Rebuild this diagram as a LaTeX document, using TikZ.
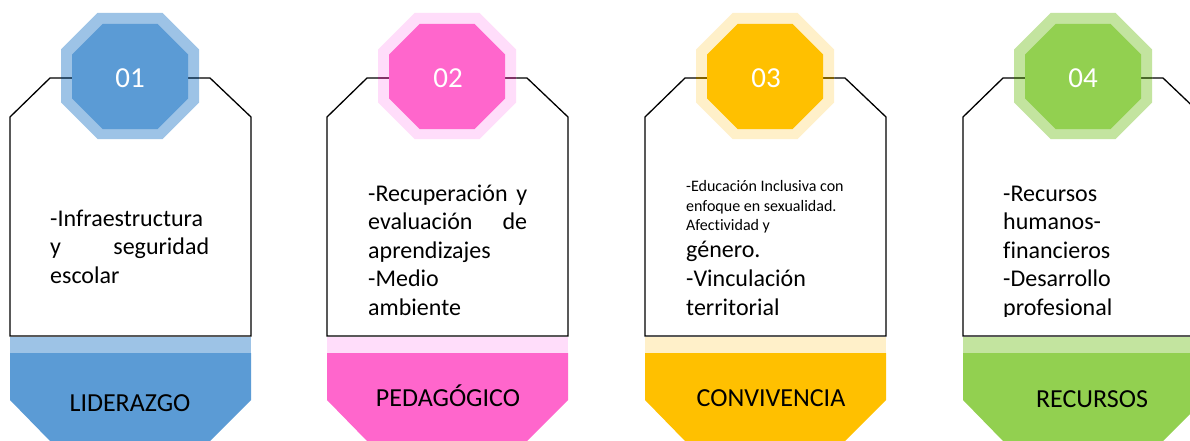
\documentclass[tikz,border=0pt]{standalone}
\usepackage{fontspec}
\setmainfont{Carlito}[Ligatures=NoCommon]
\definecolor{bD}{HTML}{5B9BD5}\definecolor{bL}{HTML}{9DC3E6}
\definecolor{pD}{HTML}{FF66CC}\definecolor{pL}{HTML}{FFDDFA}
\definecolor{yD}{HTML}{FFC000}\definecolor{yL}{HTML}{FFF0C9}
\definecolor{gD}{HTML}{92D050}\definecolor{gL}{HTML}{C3E49F}
\newcommand\octpath[5]{({#1-#3+#5},{#2-#4}) -- ({#1+#3-#5},{#2-#4}) -- ({#1+#3},{#2-#4+#5}) -- ({#1+#3},{#2+#4-#5}) -- ({#1+#3-#5},{#2+#4}) -- ({#1-#3+#5},{#2+#4}) -- ({#1-#3},{#2+#4-#5}) -- ({#1-#3},{#2-#4+#5}) -- cycle}
\newcommand\panelshape[3]{%
  \fill[#2] (#1,353) -- ({#1+241},353) -- ({#1+241},400) -- ({#1+200},441) -- ({#1+40},441) -- (#1,400) -- cycle;
  \fill[#3] (#1,336.5) rectangle ({#1+241},353);
  \filldraw[boxline] (#1,336) -- (#1,117) -- ({#1+40},78) -- ({#1+200},78) -- ({#1+241},117) -- ({#1+241},336) -- cycle;
  \fill[#3] \octpath{#1+120}{76}{69}{63}{36.5};
  \draw[#2!50!black, line width=1.3pt] ({#1+51},78) -- ({#1+189},78);
  \fill[#2] \octpath{#1+120}{76.5}{58}{52.5}{30.5};
}
\tikzset{
  boxline/.style={draw=black, fill=white, line width=1.3pt, line join=miter},
  numtext/.style={text=white, inner sep=0pt, font=\fontsize{29}{34}\selectfont},
  labeltext/.style={text=black, inner sep=0pt, anchor=base, font=\fontsize{26}{31}\selectfont},
  bodytext/.style={text=black, inner sep=0pt, anchor=base west, font=\fontsize{24}{28.5}\selectfont},
  smalltext/.style={text=black, inner sep=0pt, anchor=base west, font=\fontsize{16}{19.5}\selectfont},
}
\begin{document}
\begin{tikzpicture}[x=1pt,y=-1pt]
\clip (0,0) rectangle (1190,441);
\fill[white] (0,0) rectangle (1190,441);
% panels
\panelshape{10}{bD}{bL}
\panelshape{327}{pD}{pL}
\panelshape{645}{yD}{yL}
\panelshape{963}{gD}{gL}
% numbers
\node[numtext] (n1) at (130,78) {01};
\node[numtext] (n2) at (448,78) {02};
\node[numtext] (n3) at (766,78) {03};
\node[numtext] (n4) at (1083,78) {04};
% labels
\node[labeltext] (l1) at (130,411) {LIDERAZGO};
\node[labeltext] (l2) at (448,406) {PEDAGÓGICO};
\node[labeltext] (l3) at (771,406) {CONVIVENCIA};
\node[labeltext] (l4) at (1092,407) {RECURSOS};
% panel 1 text
\node[bodytext] (a1) at (50,226) {-Infraestructura};
\node[bodytext] (a2) at (50,254.5) {\makebox[159pt][s]{y seguridad}};
\node[bodytext] (a3) at (50,283) {escolar};
% panel 2 text
\node[bodytext] (b1) at (368,201) {\makebox[159pt][s]{-Recuperación y}};
\node[bodytext] (b2) at (368,229.5) {\makebox[159pt][s]{evaluación de}};
\node[bodytext] (b3) at (368,258) {aprendizajes};
\node[bodytext] (b4) at (368,286.5) {-Medio};
\node[bodytext] (b5) at (368,315) {ambiente};
% panel 3 text
\node[smalltext] (c1) at (686,191) {-Educación Inclusiva con};
\node[smalltext] (c2) at (686,211) {enfoque en sexualidad.};
\node[smalltext] (c3) at (686,230) {Afectividad y};
\node[bodytext] (c4) at (686,257) {género.};
\node[bodytext] (c5) at (686,286) {-Vinculación};
\node[bodytext] (c6) at (686,315) {territorial};
% panel 4 text
\begin{scope}
\clip (960,100) rectangle (1190,316);
\node[bodytext] (d1) at (1003,201) {-Recursos};
\node[bodytext] (d2) at (1003,229.5) {humanos-};
\node[bodytext] (d3) at (1003,258) {financieros};
\node[bodytext] (d4) at (1003,286.5) {-Desarrollo};
\node[bodytext] (d5) at (1003,315) {profesional};
\end{scope}
\end{tikzpicture}
\end{document}
